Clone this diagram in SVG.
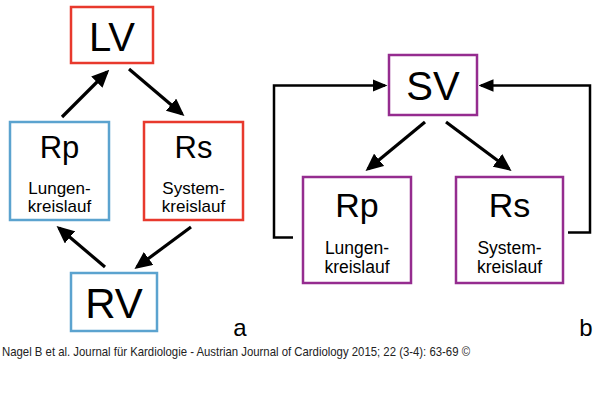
<svg xmlns="http://www.w3.org/2000/svg" width="600" height="401" viewBox="0 0 600 401">
<style>
.box{fill:#fff;stroke-width:2.5}
.red{stroke:#e8392d}.blue{stroke:#5ba3cf}.pur{stroke:#952c8f}
.big{font-family:"Liberation Sans",Arial,sans-serif;font-size:40px;fill:#000;text-anchor:middle}
.mid{font-family:"Liberation Sans",Arial,sans-serif;font-size:31px;fill:#000;text-anchor:middle}
.sm{font-family:"Liberation Sans",Arial,sans-serif;font-size:17px;fill:#000;text-anchor:middle}
.lbl{font-family:"Liberation Sans",Arial,sans-serif;font-size:24px;fill:#000;text-anchor:middle}
.c{fill:none;stroke:#000;stroke-width:3.2}
.t{fill:none;stroke:#000;stroke-width:2.5}
</style>
<defs>
<marker id="ah" markerWidth="5.5" markerHeight="5" refX="4.5" refY="2.5" orient="auto" markerUnits="strokeWidth">
<path d="M0,0 L5.5,2.5 L0,5 z" fill="#000"/>
</marker>
<marker id="ah2" markerWidth="6" markerHeight="5" refX="5" refY="2.5" orient="auto" markerUnits="strokeWidth">
<path d="M0,0 L6,2.5 L0,5 z" fill="#000"/>
</marker>
</defs>
<rect width="600" height="401" fill="#fff"/>
<g id="connectors">
<line class="c" x1="62" y1="117" x2="107" y2="72" marker-end="url(#ah)"/>
<line class="c" x1="129" y1="69" x2="182" y2="114" marker-end="url(#ah)"/>
<line class="c" x1="191" y1="227" x2="137" y2="267" marker-end="url(#ah)"/>
<line class="c" x1="105" y1="267" x2="59" y2="228" marker-end="url(#ah)"/>
<line class="c" x1="425" y1="122" x2="368" y2="169" marker-end="url(#ah)"/>
<line class="c" x1="446" y1="122" x2="509" y2="169" marker-end="url(#ah)"/>
<polyline class="t" points="293,237.5 274,237.5 274,85.5 385,85.5" marker-end="url(#ah2)"/>
<polyline class="t" points="568,232.5 590,232.5 590,85.5 481,85.5" marker-end="url(#ah2)"/>
</g>
<g id="LV"><rect class="box red" x="71" y="7" width="82" height="56"/><text class="big" x="112" y="51">LV</text></g>
<g id="Rp_a"><rect class="box blue" x="10" y="122" width="99" height="98"/><text class="mid" x="59.5" y="158">Rp</text><text class="sm" x="59.5" y="193.5">Lungen-</text><text class="sm" x="59.5" y="211.5">kreislauf</text></g>
<g id="Rs_a"><rect class="box red" x="144" y="122" width="99" height="98"/><text class="mid" x="193.5" y="158">Rs</text><text class="sm" x="193.5" y="193.5">System-</text><text class="sm" x="193.5" y="211.5">kreislauf</text></g>
<g id="RV"><rect class="box blue" x="71" y="273" width="86" height="58"/><text class="big" x="114" y="318" style="font-size:42px">RV</text></g>
<text class="lbl" x="240" y="336">a</text>
<g id="SV"><rect class="box pur" x="389" y="55" width="88" height="60"/><text class="big" x="433" y="100">SV</text></g>
<g id="Rp_b"><rect class="box pur" x="303" y="177" width="108" height="106"/><text class="mid" x="357" y="217" style="font-size:34px">Rp</text><text class="sm" x="357" y="254" style="font-size:17.5px">Lungen-</text><text class="sm" x="357" y="272.5" style="font-size:17.5px">kreislauf</text></g>
<g id="Rs_b"><rect class="box pur" x="456" y="177" width="107" height="106"/><text class="mid" x="509.5" y="217" style="font-size:34px">Rs</text><text class="sm" x="509.5" y="254" style="font-size:17.5px">System-</text><text class="sm" x="509.5" y="272.5" style="font-size:17.5px">kreislauf</text></g>
<text class="lbl" x="586" y="336">b</text>
<text x="2" y="356" font-family="'Liberation Sans',Arial,sans-serif" font-size="13" fill="#222" textLength="468" lengthAdjust="spacingAndGlyphs">Nagel B et al. Journal für Kardiologie - Austrian Journal of Cardiology 2015; 22 (3-4): 63-69 ©</text>
</svg>
